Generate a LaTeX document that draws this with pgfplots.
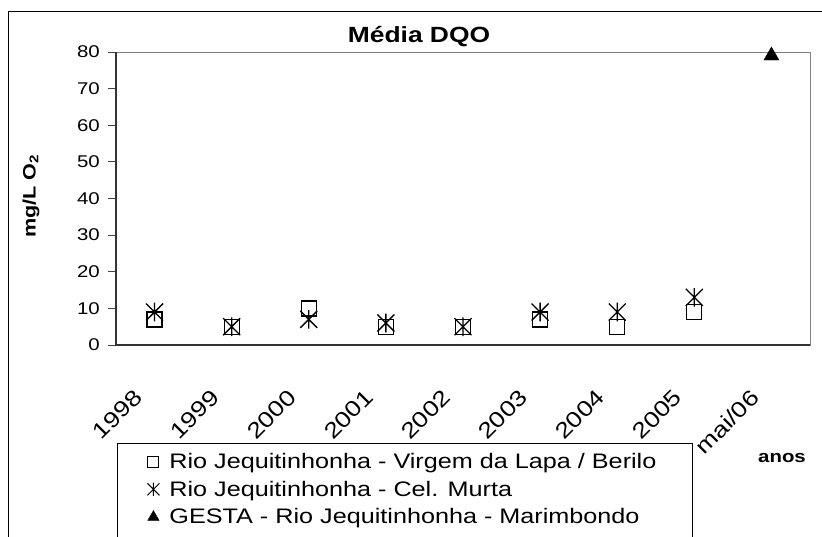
\documentclass[border=0pt]{standalone}
\usepackage{fontspec}
\setmainfont[FakeStretch=1.2]{Liberation Sans}
\usepackage{pgfplots}
\pgfplotsset{compat=1.18}

% excel style star: an x with a vertical bar through it
\pgfdeclareplotmark{xstar}{%
  \pgfpathmoveto{\pgfqpoint{-\pgfplotmarksize}{-\pgfplotmarksize}}%
  \pgfpathlineto{\pgfqpoint{\pgfplotmarksize}{\pgfplotmarksize}}%
  \pgfpathmoveto{\pgfqpoint{-\pgfplotmarksize}{\pgfplotmarksize}}%
  \pgfpathlineto{\pgfqpoint{\pgfplotmarksize}{-\pgfplotmarksize}}%
  \pgfpathmoveto{\pgfqpoint{0pt}{-1.1\pgfplotmarksize}}%
  \pgfpathlineto{\pgfqpoint{0pt}{1.1\pgfplotmarksize}}%
  \pgfusepathqstroke}

\begin{document}
\begin{tikzpicture}
\useasboundingbox (0pt,0pt) rectangle (822pt,536pt);
% outer chart frame
\draw[line width=1pt] (8pt,524pt) -- (840pt,524pt) (8pt,524pt) -- (8pt,-20pt);

\begin{axis}[
    at={(116pt,191pt)}, anchor=south west,
    scale only axis, width=694pt, height=293pt,
    xmin=0, xmax=9, ymin=0, ymax=80,
    axis line style={draw=gray, line width=1pt},
    tick align=outside,
    xtick pos=bottom, ytick pos=left,
    xtick={0.5,1.5,2.5,3.5,4.5,5.5,6.5,7.5,8.5},
    xticklabels={1998,1999,2000,2001,2002,2003,2004,2005,mai/06},
    xtick style={draw=none},
    minor xtick={0,1,...,9},
    minor tick length=8pt,
    ytick={0,10,...,80},
    major tick length=8pt,
    every tick/.style={black!75, line width=1pt},
    /pgf/number format/assume math mode=true,
    yticklabel style={font=\fontsize{17}{20}\selectfont, inner sep=0pt, xshift=-8pt},
    xticklabel style={font=\fontsize{22}{26}\selectfont, xshift=-22pt, yshift=-35pt, rotate=45, anchor=north east, inner sep=0pt},
    clip=false,
    legend style={draw=none, fill=none, at={(axis description cs:0.045,-0.362)}, anchor=north west,
        font=\fontsize{21}{25}\selectfont, row sep=7pt, column sep=8pt, inner sep=0pt},
    legend cell align=left,
    after end axis/.code={
        \draw[black!80, line width=1.3pt] (rel axis cs:0,1) -- (rel axis cs:0,0) -- (rel axis cs:1,0);
    },
]
\addplot[only marks, mark=square, mark size=7.5, line width=1.3pt, forget plot] coordinates {
(0.5,7) (1.5,5) (2.5,10) (3.5,5) (4.5,5) (5.5,7) (6.5,5) (7.5,9)
};
\addplot[only marks, mark=xstar, mark size=8.5, line width=1.3pt, forget plot] coordinates {
(0.5,9) (1.5,5) (2.5,7) (3.5,6) (4.5,5) (5.5,9) (6.5,9) (7.5,13)
};
\addplot[only marks, mark=triangle*, mark size=8.7, fill=black, forget plot] coordinates {
(8.5,79)
};
\addlegendimage{only marks, mark=square, mark size=5.5, line width=1pt}
\addlegendentry{Rio Jequitinhonha - Virgem da Lapa / Berilo}
\addlegendimage{only marks, mark=xstar, mark size=6, line width=1pt}
\addlegendentry{Rio Jequitinhonha - Cel. Murta}
\addlegendimage{only marks, mark=triangle*, mark size=6.5, fill=black}
\addlegendentry{GESTA - Rio Jequitinhonha - Marimbondo}
\end{axis}

% legend frame
\draw[line width=1pt] (117pt,93pt) rectangle (692pt,-20pt);
\node[anchor=base, font=\bfseries\fontsize{22}{26}\selectfont] at (419pt,493pt) {Média DQO};
\node[rotate=90, font=\bfseries\fontsize{18}{22}\selectfont] at (31pt,340pt) {mg/L O\textsubscript{2}};
\node[font=\bfseries\fontsize{17}{20}\selectfont] at (782pt,78pt) {anos};
\end{tikzpicture}
\end{document}
